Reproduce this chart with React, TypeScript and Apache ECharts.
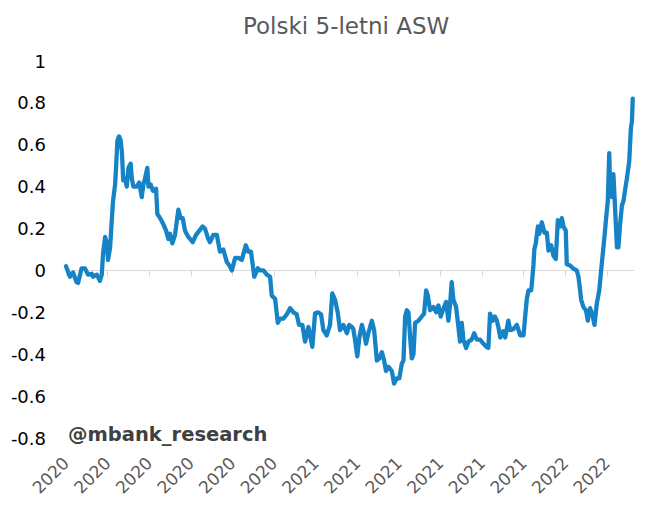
import React, { useEffect, useRef } from "react";
import * as echarts from "echarts";

// x position in months since the start of January 2020
const monthsSinceJan2020 = [
  0.0, 0.19, 0.34, 0.51, 0.58, 0.75, 0.91, 1.06, 1.24, 1.3, 1.48, 1.63, 1.72, 1.78, 1.88, 1.96,
  2.02, 2.12, 2.2, 2.26, 2.36, 2.4, 2.47, 2.55, 2.63, 2.69, 2.75, 2.84, 2.92, 3.0, 3.11, 3.16,
  3.24, 3.4, 3.52, 3.64, 3.72, 3.8, 3.91, 3.96, 4.07, 4.18, 4.33, 4.39, 4.52, 4.68, 4.81, 4.92,
  5.0, 5.11, 5.24, 5.4, 5.51, 5.61, 5.72, 5.88, 6.09, 6.25, 6.41, 6.57, 6.68, 6.84, 6.92, 7.08,
  7.25, 7.4, 7.56, 7.73, 7.88, 7.97, 8.13, 8.28, 8.45, 8.64, 8.76, 8.89, 9.05, 9.22, 9.33, 9.49,
  9.65, 9.81, 9.89, 10.05, 10.18, 10.29, 10.45, 10.61, 10.77, 10.93, 11.09, 11.2, 11.36, 11.49,
  11.65, 11.84, 11.97, 12.13, 12.26, 12.37, 12.53, 12.69, 12.8, 12.93, 13.06, 13.17, 13.33, 13.5,
  13.61, 13.74, 13.81, 13.89, 14.0, 14.1, 14.22, 14.33, 14.42, 14.53, 14.7, 14.81, 14.94, 15.06,
  15.18, 15.29, 15.38, 15.5, 15.66, 15.77, 15.9, 16.02, 16.14, 16.22, 16.3, 16.38, 16.46, 16.54,
  16.62, 16.7, 16.78, 16.94, 17.1, 17.21, 17.31, 17.39, 17.5, 17.66, 17.79, 17.9, 18.01, 18.11,
  18.27, 18.38, 18.46, 18.54, 18.62, 18.75, 18.86, 18.94, 19.02, 19.1, 19.23, 19.34, 19.5, 19.62,
  19.74, 19.9, 20.06, 20.22, 20.3, 20.38, 20.51, 20.62, 20.71, 20.78, 20.87, 21.02, 21.11, 21.26,
  21.35, 21.5, 21.67, 21.83, 21.99, 22.07, 22.15, 22.23, 22.36, 22.42, 22.47, 22.51, 22.58, 22.68,
  22.75, 22.87, 23.0, 23.11, 23.19, 23.32, 23.43, 23.54, 23.64, 23.75, 23.83, 23.91, 24.02, 24.07,
  24.23, 24.39, 24.55, 24.63, 24.71, 24.76, 24.87, 24.99, 25.08, 25.19, 25.3, 25.4, 25.51, 25.63,
  25.72, 25.78, 25.88, 25.96, 26.04, 26.11, 26.15, 26.24, 26.31, 26.39, 26.48, 26.55, 26.63, 26.72,
  26.79, 26.88, 26.96, 27.07, 27.15, 27.2, 27.24,
];

// Polish 5Y asset swap spread
const aswValues = [
  0.02, -0.03, -0.01, -0.056, -0.06, 0.01, 0.01, -0.02, -0.016, -0.03, -0.02, -0.05, -0.02, 0.08, 0.16, 0.13,
  0.05, 0.11, 0.24, 0.33, 0.41, 0.48, 0.62, 0.64, 0.62, 0.56, 0.43, 0.44, 0.4, 0.49, 0.51, 0.44,
  0.4, 0.4, 0.42, 0.35, 0.41, 0.44, 0.49, 0.4, 0.41, 0.38, 0.39, 0.27, 0.25, 0.22, 0.19, 0.15,
  0.175, 0.13, 0.17, 0.29, 0.25, 0.25, 0.19, 0.16, 0.135, 0.17, 0.19, 0.21, 0.2, 0.15, 0.135, 0.17,
  0.17, 0.09, 0.1, 0.04, 0.02, 0.0, 0.06, 0.06, 0.05, 0.12, 0.09, 0.09, -0.03, 0.01, 0.0, 0.0,
  -0.02, -0.03, -0.12, -0.135, -0.25, -0.23, -0.23, -0.21, -0.18, -0.2, -0.21, -0.26, -0.26, -0.34,
  -0.27, -0.365, -0.205, -0.2, -0.21, -0.285, -0.31, -0.26, -0.11, -0.14, -0.2, -0.285, -0.26, -0.3,
  -0.26, -0.27, -0.28, -0.33, -0.41, -0.32, -0.26, -0.3, -0.35, -0.3, -0.24, -0.285, -0.43, -0.42,
  -0.39, -0.43, -0.48, -0.46, -0.48, -0.54, -0.515, -0.515, -0.445, -0.43, -0.22, -0.19, -0.2, -0.32,
  -0.42, -0.4, -0.25, -0.24, -0.22, -0.206, -0.095, -0.12, -0.19, -0.175, -0.2, -0.167, -0.22, -0.19,
  -0.15, -0.24, -0.16, -0.056, -0.14, -0.175, -0.27, -0.34, -0.25, -0.33, -0.37, -0.34, -0.33, -0.3,
  -0.33, -0.33, -0.35, -0.365, -0.37, -0.206, -0.24, -0.22, -0.24, -0.27, -0.32, -0.29, -0.32, -0.24,
  -0.285, -0.28, -0.26, -0.31, -0.31, -0.22, -0.135, -0.095, -0.095, -0.03, 0.03, 0.1, 0.13, 0.21,
  0.175, 0.23, 0.18, 0.18, 0.095, 0.12, 0.07, 0.055, 0.24, 0.21, 0.25, 0.21, 0.19, 0.03,
  0.024, 0.008, 0.0, -0.03, -0.095, -0.14, -0.175, -0.19, -0.24, -0.18, -0.21, -0.26, -0.16, -0.095,
  0.0, 0.06, 0.16, 0.25, 0.33, 0.56, 0.4, 0.35, 0.46, 0.3, 0.11, 0.11, 0.22, 0.31,
  0.33, 0.39, 0.44, 0.52, 0.68, 0.71, 0.82,
];

// one tick every two months, starting January 2020
const tickMonths = [0, 2, 4, 6, 8, 10, 12, 14, 16, 18, 20, 22, 24, 26];
const tickLabels = [
  "2020", "2020", "2020", "2020", "2020", "2020",
  "2021", "2021", "2021", "2021", "2021", "2021",
  "2022", "2022",
];

const X_MAX = 27.3;
const FONT = "'DejaVu Sans', Verdana, sans-serif";

export default function App() {
  const ref = useRef<HTMLDivElement>(null);

  useEffect(() => {
    if (!ref.current) return;
    const chart = echarts.init(ref.current, undefined, { renderer: "svg" });
    const data = monthsSinceJan2020.map((m, i) => [m, aswValues[i]]);
    const labelFor = (v: number) => {
      const idx = tickMonths.indexOf(Math.round(v * 100) / 100);
      return idx >= 0 ? tickLabels[idx] : "";
    };
    chart.setOption({
      animation: false,
      backgroundColor: "#ffffff",
      title: {
        text: "Polski 5-letni ASW",
        left: 243,
        top: 14,
        padding: 0,
        textStyle: {
          fontFamily: FONT,
          fontSize: 23,
          fontWeight: "normal",
          color: "#595959",
        },
      },
      grid: { left: 66, right: 25, top: 61, bottom: 71, containLabel: false },
      xAxis: [
        {
          type: "value",
          min: 0,
          max: X_MAX,
          interval: 2,
          axisLine: { onZero: true, lineStyle: { color: "#d9d9d9", width: 1 } },
          axisTick: { show: true, length: 6, customValues: tickMonths, lineStyle: { color: "#d9d9d9" } },
          axisLabel: { show: false },
          splitLine: { show: false },
        },
        {
          type: "value",
          position: "bottom",
          min: 0,
          max: X_MAX,
          interval: 2,
          axisLine: { show: false, onZero: false },
          axisTick: { show: false },
          splitLine: { show: false },
          axisLabel: {
            show: true,
            rotate: 45,
            margin: 22,
            customValues: tickMonths,
            formatter: labelFor,
            fontFamily: FONT,
            fontSize: 17,
            color: "#595959",
          },
        },
      ],
      yAxis: {
        type: "value",
        min: -0.8,
        max: 1,
        interval: 0.2,
        axisLine: { show: false },
        axisTick: { show: false },
        splitLine: { show: false },
        axisLabel: {
          margin: 20,
          fontFamily: FONT,
          fontSize: 18,
          color: "#000000",
        },
      },
      graphic: [
        {
          type: "text",
          left: 68,
          top: 424,
          style: {
            text: "@mbank_research",
            fontFamily: FONT,
            fontSize: 19.5,
            fontWeight: "bold",
            fill: "#404040",
          },
        },
      ],
      series: [
        {
          type: "line",
          xAxisIndex: 0,
          data,
          symbol: "none",
          lineStyle: { color: "#1583c6", width: 4.3, join: "round", cap: "round" },
          z: 3,
        },
      ],
    });
    return () => chart.dispose();
  }, []);

  return (
    <div
      ref={ref}
      style={{ position: "fixed", left: 0, top: 0, width: 659, height: 509, background: "#fff" }}
    />
  );
}
